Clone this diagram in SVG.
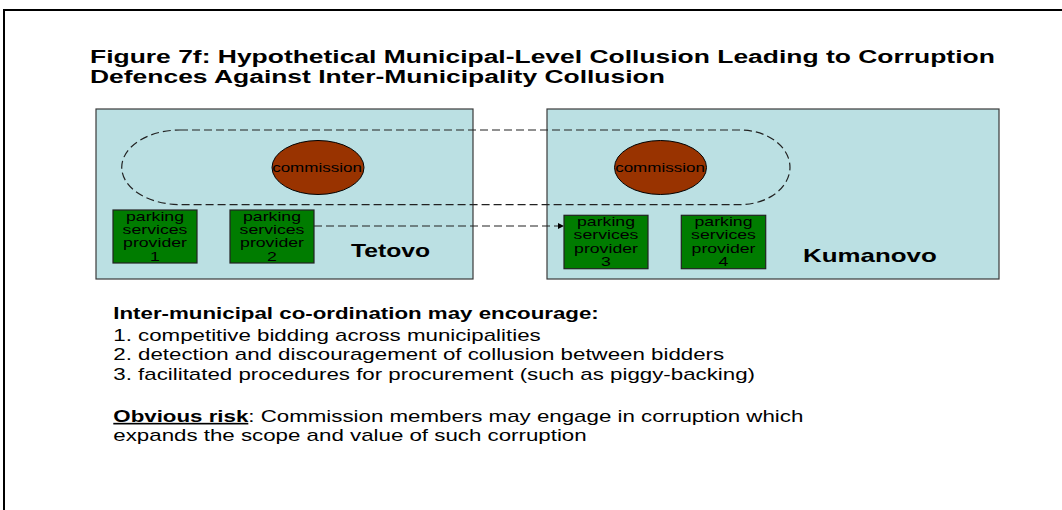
<svg xmlns="http://www.w3.org/2000/svg" width="1062" height="510" viewBox="0 0 1062 510">
<style>
text{font-family:"Liberation Sans",Arial,sans-serif;fill:#000}
.title{font-size:18.5px;font-weight:bold}
.body{font-size:16.4px}
.bold{font-weight:bold}
.city{fill:#BBE0E3;stroke:#3a3a3a;stroke-width:1.2}
.comm{fill:#993300;stroke:#000;stroke-width:1}
.prov{fill:#007C00;stroke:#222;stroke-width:1.2}
.ptxt{font-size:13px;text-anchor:middle}
.ctxt{font-size:12.5px;text-anchor:middle}
.clab{font-size:18.5px;font-weight:bold}
.dash{fill:none;stroke:#222;stroke-width:1.2;stroke-dasharray:8 4}
</style>
<defs>
<marker id="arr" viewBox="0 0 10 10" refX="10" refY="5" markerWidth="7" markerHeight="6" orient="auto" markerUnits="userSpaceOnUse">
<path d="M0,0 L10,5 L0,10 Z" fill="#000"/>
</marker>
</defs>
<rect width="1062" height="510" fill="#fff"/>
<g id="frame"><rect x="4" y="10" width="1080" height="520" fill="none" stroke="#000" stroke-width="2"/></g>
<g id="title" transform="translate(90,0) scale(1.43,1)">
<text class="title" x="0" y="63.5">Figure 7f: Hypothetical Municipal-Level Collusion Leading to Corruption</text>
<text class="title" x="0" y="83">Defences Against Inter-Municipality Collusion</text>
</g>
<g id="tetovo"><rect class="city" x="96" y="109" width="377" height="170"/></g>
<g id="kumanovo"><rect class="city" x="547" y="109" width="452" height="170"/></g>
<g id="connectors">
<path class="dash" d="M180,130 L740,130 A50,37.3 0 0 1 740,204.6 L180,204.6 A58.3,37.3 0 0 1 180,130 Z"/>
<line class="dash" x1="314" y1="226" x2="564" y2="226" marker-end="url(#arr)"/>
</g>
<g id="commission-tetovo">
<ellipse class="comm" cx="318" cy="167.5" rx="46" ry="27"/>
<text class="ctxt" transform="translate(317,172) scale(1.36,1)">commission</text>
</g>
<g id="commission-kumanovo">
<ellipse class="comm" cx="660.5" cy="167.5" rx="46" ry="27"/>
<text class="ctxt" transform="translate(660,172) scale(1.36,1)">commission</text>
</g>
<g id="provider-1" transform="translate(155,0)">
<rect class="prov" x="-42" y="210" width="84" height="53"/>
<g transform="scale(1.36,1)">
<text class="ptxt" x="0" y="220.7">parking</text>
<text class="ptxt" x="0" y="234">services</text>
<text class="ptxt" x="0" y="247.3">provider</text>
<text class="ptxt" x="0" y="260.7">1</text>
</g>
</g>
<g id="provider-2" transform="translate(272,0)">
<rect class="prov" x="-42" y="210" width="84" height="53"/>
<g transform="scale(1.36,1)">
<text class="ptxt" x="0" y="220.7">parking</text>
<text class="ptxt" x="0" y="234">services</text>
<text class="ptxt" x="0" y="247.3">provider</text>
<text class="ptxt" x="0" y="260.7">2</text>
</g>
</g>
<g id="provider-3" transform="translate(606,0)">
<rect class="prov" x="-42" y="215.3" width="84" height="53.4"/>
<g transform="scale(1.36,1)">
<text class="ptxt" x="0" y="226">parking</text>
<text class="ptxt" x="0" y="239.3">services</text>
<text class="ptxt" x="0" y="252.7">provider</text>
<text class="ptxt" x="0" y="266">3</text>
</g>
</g>
<g id="provider-4" transform="translate(723.5,0)">
<rect class="prov" x="-42.2" y="215.3" width="84.4" height="53.4"/>
<g transform="scale(1.36,1)">
<text class="ptxt" x="0" y="226">parking</text>
<text class="ptxt" x="0" y="239.3">services</text>
<text class="ptxt" x="0" y="252.7">provider</text>
<text class="ptxt" x="0" y="266">4</text>
</g>
</g>
<g id="city-labels">
<text class="clab" transform="translate(351,257.3) scale(1.336,1)">Tetovo</text>
<text class="clab" transform="translate(803,262.3) scale(1.40,1)">Kumanovo</text>
</g>
<g id="notes" transform="translate(113.3,0) scale(1.36,1)">
<text class="body bold" x="0" y="319.5">Inter-municipal co-ordination may encourage:</text>
<text class="body" x="0" y="341">1. competitive bidding across municipalities</text>
<text class="body" x="0" y="360.5">2. detection and discouragement of collusion between bidders</text>
<text class="body" x="0" y="380">3. facilitated procedures for procurement (such as piggy-backing)</text>
<text class="body" x="0" y="422"><tspan class="bold" text-decoration="underline">Obvious risk</tspan>: Commission members may engage in corruption which</text>
<text class="body" x="0" y="441.5">expands the scope and value of such corruption</text>
</g>
</svg>
